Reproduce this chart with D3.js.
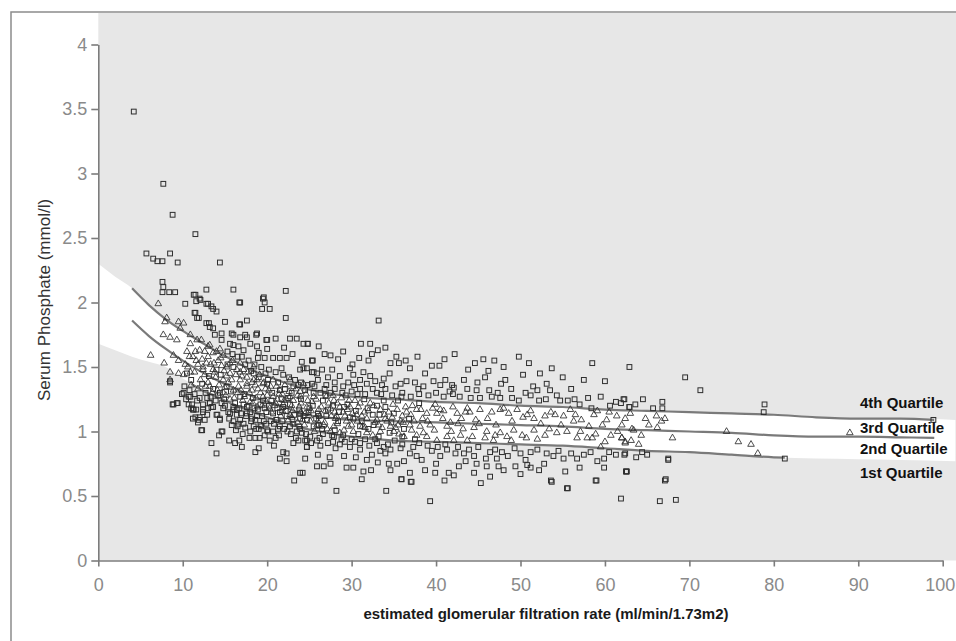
<!DOCTYPE html>
<html>
<head>
<meta charset="utf-8">
<script src="https://cdn.jsdelivr.net/npm/d3@7/dist/d3.min.js"></script>
<style>
  body { margin: 0; background: #fff; }
  svg text { font-family: "Liberation Sans", Arial, sans-serif; }
</style>
</head>
<body>
<div id="scatterChart"></div>
<script>
/***** Data ***************************/
var xTicks = [0, 10, 20, 30, 40, 50, 60, 70, 80, 90, 100];
var yTicks = [0, 0.5, 1, 1.5, 2, 2.5, 3, 3.5, 4];
var quartileNames = ["4th Quartile", "3rd Quartile", "2nd Quartile", "1st Quartile"];

// white band behind the middle half: [eGFR, top, bottom]
var bandEdges = [
  [0, 2.30, 1.68], [2, 2.20, 1.63], [4, 2.11, 1.58], [6, 1.98, 1.54], [8, 1.87, 1.50],
  [10, 1.78, 1.41], [12, 1.70, 1.34], [14, 1.62, 1.28], [16, 1.55, 1.22], [18, 1.48, 1.17],
  [20, 1.43, 1.12], [22, 1.38, 1.08], [24, 1.34, 1.04], [27, 1.30, 0.99], [30, 1.27, 0.96],
  [35, 1.25, 0.93], [40, 1.23, 0.92], [45, 1.22, 0.91], [50, 1.20, 0.90], [55, 1.19, 0.89],
  [60, 1.17, 0.87], [65, 1.16, 0.85], [70, 1.15, 0.84], [75, 1.14, 0.82], [80, 1.13, 0.80],
  [85, 1.11, 0.79], [90, 1.10, 0.785], [95, 1.10, 0.78], [101.5, 1.09, 0.77]
];

var upperLine = [
  [4, 2.11], [6, 1.98], [8, 1.87], [10, 1.78], [12, 1.70], [14, 1.62], [16, 1.55], [18, 1.48],
  [20, 1.43], [22, 1.38], [24, 1.34], [27, 1.30], [30, 1.27], [35, 1.25], [40, 1.23], [45, 1.22],
  [50, 1.20], [55, 1.19], [60, 1.17], [65, 1.16], [70, 1.15], [75, 1.14], [80, 1.13], [85, 1.11],
  [90, 1.10], [95, 1.10], [99, 1.09]
];
var medianLine = [
  [4, 1.86], [6, 1.74], [8, 1.64], [10, 1.55], [12, 1.47], [14, 1.40], [16, 1.34], [18, 1.28],
  [20, 1.23], [22, 1.19], [24, 1.14], [27, 1.11], [30, 1.09], [35, 1.08], [40, 1.07], [45, 1.06],
  [50, 1.05], [55, 1.04], [60, 1.02], [65, 1.01], [70, 1.00], [75, 0.99], [80, 0.97], [85, 0.96],
  [90, 0.96], [95, 0.955], [99, 0.95]
];
var lowerLine = [
  [11, 1.37], [12, 1.33], [14, 1.27], [16, 1.21], [18, 1.16], [20, 1.11], [22, 1.07],
  [24, 1.03], [27, 0.99], [30, 0.96], [35, 0.93], [40, 0.92], [45, 0.91], [50, 0.90], [55, 0.89],
  [60, 0.87], [65, 0.85], [70, 0.84], [75, 0.82], [80, 0.80], [81.3, 0.797]
];

// outer quartiles (squares)
var squarePts = [
  [4.2,3.48],[7.7,2.92],[8.8,2.68],[11.5,2.53],[5.7,2.38],[8.5,2.38],[6.5,2.34],[7.0,2.32],[7.6,2.32],[9.4,2.31],[14.4,2.31],
  [7.6,2.16],[7.7,2.12],[7.6,2.08],[8.4,2.08],[9.1,2.08],
  [10.3,1.99],[11.5,2.06],[12.1,2.02],[12.8,1.99],[13.6,1.95],[14.0,1.93],[12.8,2.10],[16.0,2.10],[16.7,2.0],[19.5,2.03],
  [19.7,2.0],[19.4,1.95],[20.3,1.95],[22.2,2.09],[22.2,1.88],[11.5,1.92],[11.9,1.88],[12.8,1.84],[13.2,1.81],[15.0,1.85],
  [16.7,1.83],[17.6,1.86],[13.8,1.75],[14.6,1.71],[16.0,1.75],[16.8,1.73],[17.6,1.73],[18.7,1.75],[16.0,1.67],[16.6,1.66],
  [17.2,1.63],[18.8,1.66],[19.9,1.71],[18.9,1.57],[19.7,1.57],[20.7,1.57],[21.5,1.57],[22.3,1.57],[22.7,1.72],[23.5,1.72],
  [24.3,1.68],[11.3,2.06],[12.0,2.03],[11.6,2.01],[13.0,1.99],[13.4,1.97],[16.8,2.00],[19.6,2.04],[11.4,1.92],
  [11.7,1.88],[13.1,1.84],[13.6,1.80],[16.8,1.83],[14.6,1.76],[15.8,1.76],[17.4,1.75],[18.8,1.76],[20.0,1.71],[24.8,1.68],
  [26.1,1.66],[15.6,1.68],[18.0,1.68],[20.0,1.64],[19.0,1.61],[24.1,1.54],[25.4,1.55],[21.7,1.49],[23.9,1.48],[24.7,1.49],
  [25.3,1.46],[25.9,1.45],
  [33.2,1.86],[24.8,1.68],[31.1,1.68],[32.2,1.68],[33.1,1.63],[32.4,1.60],[27.5,1.59],[28.4,1.56],[25.3,1.55],[32.0,1.55],
  [35.3,1.58],[34.6,1.53],[35.6,1.53],[42.2,1.60],[44.6,1.53],[46.9,1.55],[51.0,1.53],[53.7,1.49],[58.5,1.53],[62.9,1.50],
  [39.5,1.51],[40.4,1.51],[46.2,1.47],[50.3,1.44],[47.7,1.37],[53.1,1.37],[60.0,1.39],[56.0,1.33],[59.5,1.27],[61.3,1.23],
  [62.3,1.25],[62.9,1.19],[56.4,1.25],[58.4,1.18],
  [24.3,1.49],[25.5,1.46],[26.5,1.48],[27.7,1.48],[28.6,1.43],[29.8,1.49],[30.2,1.44],[31.0,1.40],[31.8,1.37],[32.8,1.39],
  [33.8,1.41],[35.2,1.35],[35.8,1.37],[36.5,1.39],[37.5,1.38],[37.9,1.33],[38.7,1.45],[39.7,1.39],[40.5,1.36],[41.1,1.40],
  [41.9,1.36],[42.1,1.34],[43.3,1.40],[43.7,1.33],[44.8,1.32],[45.2,1.26],[46.3,1.32],[46.6,1.27],[47.6,1.26],[49.0,1.26],
  [49.8,1.24],[51.2,1.28],[52.0,1.32],[52.2,1.24],[53.5,1.32],[54.3,1.28],[54.7,1.24],
  [26.0,1.40],[27.0,1.36],[28.0,1.33],[29.0,1.35],[30.0,1.31],[31.0,1.33],[33.0,1.30],[34.0,1.33],[36.0,1.30],[38.0,1.29],
  [40.0,1.30],[42.0,1.29],
  [15.3,1.62],[15.9,1.60],[17.0,1.58],[17.8,1.55],[18.5,1.52],[19.3,1.50],[20.2,1.48],[21.0,1.46],[21.9,1.44],[22.6,1.42],
  [23.3,1.40],[24.0,1.38],[24.8,1.36],[25.6,1.35],[26.8,1.33],[27.5,1.30],[28.9,1.30],[29.6,1.38],[30.7,1.29],[31.6,1.29],
  [32.5,1.33],[33.5,1.29],[34.8,1.28],[35.9,1.27],[37.0,1.27],[38.5,1.35],[39.1,1.28],[40.9,1.27],[41.6,1.31],[42.8,1.27],
  [44.1,1.26],[44.9,1.38],[45.8,1.42],[47.3,1.30],[48.2,1.40],[48.9,1.33],[50.6,1.30],[51.5,1.35],[53.0,1.25],[55.6,1.24],
  [57.0,1.21],[58.0,1.26],[60.6,1.20],[61.9,1.22],[63.6,1.21],[64.5,1.25],
  [21.0,1.72],[22.0,1.65],[23.0,1.60],[26.8,1.60],[29.0,1.62],[30.1,1.52],[30.9,1.57],[34.0,1.65],[36.4,1.55],[36.9,1.49],
  [37.8,1.58],[41.0,1.56],[43.8,1.48],[45.6,1.56],[48.0,1.50],[49.8,1.58],[52.3,1.45],[55.0,1.42],[57.5,1.40],
  [69.5,1.42],[71.3,1.32],[62.2,1.25],[66.8,1.23],[78.9,1.21],[62.9,1.19],[65.7,1.18],[66.8,1.18],[78.8,1.15],[98.9,1.09],
  // dense mass round the lines
  [10.2,1.35],[10.8,1.32],[11.4,1.29],[12.0,1.26],[12.7,1.30],[13.3,1.27],[13.9,1.24],[14.6,1.22],[10.4,1.25],[11.0,1.18],
  [11.7,1.24],[12.9,1.26],[13.6,1.33],[14.2,1.28],[14.9,1.25],[10.5,1.45],[11.0,1.40],[12.3,1.37],[13.1,1.43],[14.5,1.44],
  [15.2,1.35],[15.7,1.31],[16.2,1.22],[16.7,1.18],[17.3,1.29],[17.8,1.20],[18.3,1.26],[18.9,1.17],[19.5,1.24],[19.9,1.15],
  [15.5,1.10],[16.0,1.08],[16.9,1.14],[17.4,1.03],[18.0,1.00],[18.6,1.09],[19.4,1.12],[19.9,1.06],[15.3,1.52],[16.5,1.58],
  [17.4,1.52],[18.1,1.47],[19.0,1.42],[19.8,1.45],
  [20.2,1.20],[20.6,1.30],[21.2,1.18],[21.7,1.25],[22.2,1.16],[22.7,1.21],[23.2,1.13],[23.8,1.17],[24.3,1.12],[24.9,1.15],
  [20.4,1.08],[21.3,1.02],[22.4,1.00],[23.0,1.09],[23.8,1.04],[24.6,0.98],[20.1,1.40],[21.3,1.38],[22.1,1.33],[22.9,1.30],
  [23.7,1.36],[24.5,1.32],
  [25.4,1.20],[26.0,1.14],[26.6,1.24],[27.2,1.17],[27.8,1.20],[28.4,1.08],[29.1,1.19],[29.8,1.11],[30.5,1.16],[31.2,1.08],
  [31.9,1.18],[32.6,1.05],[33.3,1.13],[34.0,1.19],[34.7,1.07],[25.3,1.37],[26.3,1.30],[27.2,1.42],[28.0,1.38],[29.3,1.28],
  [30.3,1.36],[31.4,1.46],[32.2,1.43],[33.6,1.36],[34.5,1.45],[25.2,0.91],[26.2,0.95],[27.8,0.92],[28.6,0.90],[30.0,0.94],
  [31.0,0.91],[32.8,0.94],[33.8,0.88],
  [18.5,1.18],[19.0,1.02],[20.5,1.24],[21.0,0.95],[21.8,1.08],[22.5,1.26],[23.5,1.00],[24.0,1.25],[25.0,1.18],[25.8,1.10],
  [26.5,1.02],[27.0,1.12],[27.7,0.97],[28.5,1.15],[29.0,0.97],[29.5,1.21],[30.2,1.10],[30.8,0.98],[31.5,1.25],[32.0,1.02],
  [32.5,1.13],[33.2,0.96],[33.8,1.24],[34.5,0.99],[35.0,1.14],[35.5,1.24],[36.2,1.02],[36.8,1.10],[37.5,0.94],[38.0,1.22],
  [17.2,1.21],[16.5,1.04],[19.7,1.18],[26.9,1.28],[28.0,1.01],[31.0,1.04],[33.0,1.20],[36.0,0.96],
  // below the lower line
  [24.5,0.93],[24.7,0.88],[26.3,0.89],[27.9,0.96],[28.8,0.94],[29.8,0.88],[31.0,0.86],[31.8,0.78],[32.4,0.82],[33.4,0.85],
  [34.0,0.83],[34.6,0.86],[35.8,0.87],[36.9,0.83],[37.7,0.81],[38.3,0.78],[39.5,0.85],[40.5,0.81],[41.3,0.86],[42.3,0.83],
  [43.3,0.83],[44.5,0.81],[46.4,0.84],[47.2,0.79],[47.8,0.84],[50.0,0.83],[51.2,0.84],[52.8,0.75],[53.9,0.81],[55.1,0.79],
  [56.7,0.79],[59.1,0.77],[59.9,0.79],[61.3,0.82],[62.4,0.83],[23.9,0.68],[25.9,0.73],[26.7,0.73],[27.5,0.75],[29.4,0.72],
  [30.2,0.72],[31.4,0.69],[32.3,0.70],[34.4,0.75],[35.4,0.75],[34.6,0.70],[35.9,0.63],[36.9,0.68],[37.1,0.61],[38.7,0.70],
  [39.9,0.68],[41.5,0.68],[42.1,0.66],[42.7,0.73],[44.5,0.68],[44.8,0.75],[46.0,0.73],[46.4,0.65],[47.4,0.73],[49.4,0.73],
  [50.8,0.74],[51.2,0.72],[53.7,0.61],[55.3,0.69],[55.5,0.56],[58.9,0.62],[59.9,0.72],[62.6,0.69],[28.2,0.54],[34.1,0.54],
  [61.9,0.48],[39.3,0.46],[55.6,0.56],[53.6,0.62],[59.0,0.62],[62.5,0.69],[35.9,0.63],[37.0,0.61],
  [67.5,0.78],[67.1,0.62],[66.5,0.46],[68.4,0.47],[81.3,0.79],[64.4,0.84],[62.3,0.82],[67.5,0.79],[62.5,0.69],[67.2,0.63],
  [8.8,1.21],[9.3,1.22],[10.7,1.21],[11.2,1.17],[12.4,1.17],[13.2,1.22],[13.4,1.19],[12.9,1.13],[11.2,1.10],[11.9,1.09],
  [11.8,1.07],[12.3,1.01],[14.1,1.13],[14.4,1.10],[14.7,1.00],[14.3,0.97],[13.4,0.91],[14.0,0.83],[15.5,0.93],[16.2,0.91],
  [16.7,0.93],[16.6,1.06],[17.9,0.95],[18.6,0.95],[19.1,0.95],[19.7,0.97],[20.3,0.93],[18.6,0.84],[19.0,0.87],[18.7,1.02],
  [19.3,1.04],[20.1,1.00],[20.7,1.00],[21.9,0.84],[22.3,0.83],[22.3,0.77],[23.1,0.91],[23.7,0.93],[24.7,0.93],[24.5,0.79],
  [24.2,0.68],[23.2,0.62],[24.7,0.88],[17.6,1.14],[18.2,1.10],[17.2,1.06],[15.6,1.14],[16.4,1.17],[21.1,1.09],[21.5,1.04],
  [22.7,1.04],[23.9,1.02],[14.8,1.18],[15.4,1.15],[16.0,1.19],
  [8.5,1.39],[9.9,1.29],[10.7,1.27],[8.9,1.21],[9.4,1.22],[11.1,1.21],[11.3,1.17],[12.4,1.21],[13.0,1.18],[11.5,1.11],
  [12.0,1.11],[8.5,1.38],[10.1,1.30],[10.9,1.27],[11.6,1.17],[12.4,1.15],[12.6,1.09],[12.2,1.01],[13.2,1.22],[13.6,1.19],
  [14.0,1.13],[14.4,1.09],[14.6,1.00],[16.0,1.17],[16.4,1.13],[16.8,1.09],[17.6,1.19],[18.0,1.15],[18.8,1.12],[18.4,1.04],
  [19.2,1.05],[20.0,1.01],[20.7,1.14],[21.1,1.09],[21.9,1.19],[22.3,1.12],[23.1,1.06],[23.9,1.14],[24.7,1.09],[25.5,1.04],
  [26.1,1.12],
  [14.0,1.48],[16.0,1.50],[18.4,1.45],[20.0,1.37],[21.5,1.32],[23.1,1.35],[25.5,1.30],[14.4,1.30],[16.8,1.27],[19.2,1.21],
  [21.5,1.15],[23.9,1.10],[26.1,1.05],
  [15.0,1.20],[15.8,1.05],[16.3,1.01],[17.1,0.98],[17.5,1.12],[18.1,1.08],[19.6,1.08],[20.8,1.06],[21.4,0.97],[22.0,1.02],
  [22.8,0.98],[23.4,0.95],[24.1,0.99],[25.1,0.96],[25.9,0.93],[26.6,0.98],[27.2,0.91],[28.1,0.87],[29.2,0.92],[30.4,0.92],
  [31.6,0.94],[32.1,0.89],[33.0,0.91],[34.3,0.90],[35.1,0.93],[36.0,0.90],[37.3,0.88],[38.0,0.91],[39.0,0.89],[40.2,0.88],
  [41.1,0.90],[42.6,0.88],[43.9,0.86],[45.0,0.88],[45.9,0.79],[47.0,0.86],[48.5,0.81],[49.3,0.87],[50.6,0.78],[52.0,0.86],
  [53.1,0.83],[54.5,0.85],[56.0,0.83],[57.5,0.82],[58.3,0.84],[60.5,0.84],[63.7,0.80],[65.0,0.82],[17.0,0.88],[20.8,0.89],
  [21.5,0.79],[26.0,0.82],[27.4,0.80],[29.1,0.81],[30.5,0.80],[33.1,0.76],[36.2,0.77],[40.0,0.75],[43.5,0.77],[48.0,0.70],
  [50.0,0.67],[52.2,0.70],[57.0,0.72],[45.3,0.60],[41.0,0.62],[31.2,0.63],[26.8,0.62]
];

// middle quartiles (triangles)
var trianglePts = [
  [7.1,1.99],[8.1,1.88],[7.9,1.85],[9.5,1.85],[10.1,1.84],[9.7,1.80],[7.7,1.75],[8.5,1.73],[9.3,1.71],[10.9,1.75],
  [10.9,1.68],[11.7,1.71],[6.2,1.59],[7.8,1.53],[8.9,1.59],[9.5,1.55],[10.3,1.52],[8.5,1.46],[9.5,1.45],[10.9,1.46],
  [8.5,1.40],[10.1,1.44],[12.0,1.63],[13.0,1.66],[14.0,1.62],[14.8,1.59],[12.4,1.50],[13.6,1.48],[14.6,1.51],[15.6,1.53],
  [16.8,1.53],[18.4,1.50],[18.8,1.40],[17.6,1.37],[13.2,1.35],[14.8,1.30],[16.0,1.32],[19.5,1.37],[21.1,1.35],[22.7,1.40],
  [24.3,1.37],
  [12.2,1.71],[13.2,1.67],[12.6,1.62],[13.6,1.61],[14.4,1.64],[11.6,1.55],[12.8,1.53],[14.2,1.55],[15.2,1.50],[12.4,1.48],
  [13.8,1.46],[15.6,1.45],[16.8,1.46],[17.6,1.42],[18.4,1.40],[20.7,1.40],[14.8,1.40],[16.6,1.35],[18.2,1.32],
  [20.0,1.28],[21.5,1.32],[22.7,1.27],[23.9,1.31],
  [15.2,1.43],[16.8,1.40],[17.6,1.35],[19.2,1.30],[20.7,1.27],[22.3,1.25],[23.9,1.27],[24.7,1.19],[15.6,1.25],[18.0,1.23],
  [20.3,1.18],[22.7,1.13],[25.1,1.08],
  [10.5,1.62],[11.2,1.58],[11.8,1.52],[12.6,1.44],[13.3,1.52],[13.9,1.42],[10.6,1.50],[11.4,1.46],[12.1,1.40],[13.0,1.38],
  [14.3,1.36],[14.9,1.47],[15.4,1.38],[15.9,1.55],[16.3,1.44],[16.9,1.32],[17.2,1.48],[17.9,1.30],[18.6,1.36],[19.1,1.44],
  [19.8,1.33],[15.1,1.28],[16.1,1.26],[17.1,1.24],[18.3,1.22],[19.4,1.20],
  [10.8,1.58],[11.5,1.62],[12.3,1.56],[13.0,1.58],[13.7,1.53],[14.5,1.57],[11.0,1.36],[11.8,1.33],[12.7,1.35],[13.5,1.30],
  [14.1,1.32],[15.0,1.34],[15.8,1.40],[16.4,1.48],[17.0,1.43],[17.7,1.46],[18.2,1.38],[18.9,1.33],[19.6,1.38],[20.2,1.32],
  [16.5,1.30],[17.3,1.27],[18.7,1.26],[19.9,1.23],[21.2,1.25],[21.9,1.21],[22.6,1.31],[23.1,1.24],[23.8,1.19],[24.8,1.24],
  [25.5,1.27],[26.2,1.12],[26.9,1.16],[27.3,1.22],[28.0,1.15],[28.8,1.26],[29.5,1.17],[30.4,1.24],[21.8,1.16],[22.9,1.11],
  [24.2,1.09],[25.0,1.12],[26.0,1.08],[27.1,1.02],[28.3,1.06],[29.6,1.04],[30.7,1.08],[31.6,1.03],[32.8,1.07],[33.6,1.03],
  [34.8,1.11],[35.5,1.05],[36.4,1.19],[37.4,1.08],[38.2,1.17],[39.0,1.08],[39.9,1.21],[40.9,1.16],[41.7,1.07],[42.6,1.06],
  [43.5,1.15],[44.7,1.09],
  [18.8,1.19],[19.5,1.27],[20.9,1.20],[21.4,1.29],[22.0,1.24],[23.0,1.16],[23.6,1.28],[24.5,1.14],[25.3,1.23],[26.1,1.17],
  [26.7,1.05],[27.5,1.18],[28.1,1.10],[29.2,1.12],[30.1,1.14],[31.2,1.12],[32.0,1.16],[33.2,1.05],[34.0,1.10],[35.2,1.03],
  [36.1,1.07],[37.0,1.13],[24.0,1.15],[27.8,1.28],[25.9,1.05],
  [20.4,1.35],[21.0,1.22],[21.8,1.29],[22.1,1.36],[22.9,1.20],[23.4,1.33],[24.0,1.22],[24.6,1.29],[25.2,1.16],[25.8,1.25],
  [26.4,1.19],[27.0,1.27],[27.6,1.12],[28.3,1.22],[29.0,1.15],[29.7,1.24],[20.5,1.15],[21.6,1.12],[22.5,1.09],[23.6,1.07],
  [24.4,1.05],[25.6,1.00],[26.8,1.07],[27.9,1.04],[29.1,1.01],[30.0,1.05],
  [30.8,1.19],[31.5,1.15],[32.6,1.20],[33.9,1.13],[34.9,1.21],[36.0,1.12],[37.2,1.20],[38.4,1.10],[39.6,1.18],[40.8,1.10],
  [42.0,1.19],[43.0,1.10],[44.0,1.15],[31.3,1.04],[32.5,0.97],[34.6,1.04],[35.6,0.98],[37.1,1.01],[38.5,0.99],[39.8,1.01],
  [41.8,1.00],[43.2,1.02],[44.3,0.96],[45.1,1.06],
  [46.1,1.10],[47.1,1.05],[48.0,1.18],[49.0,1.08],[50.3,1.11],[51.2,1.16],[52.4,1.06],[53.6,1.15],[54.8,1.05],[55.9,1.17],
  [57.2,1.09],[58.1,1.04],[59.1,1.16],[60.2,1.09],[61.4,1.12],[63.0,1.14],[64.8,1.10],[45.8,0.95],[47.0,0.97],[48.9,0.93],
  [50.7,0.95],[52.0,0.94],[53.4,1.02],[57.1,1.00],[58.9,0.98],[60.0,0.92],[61.5,1.00],[64.0,0.90],[65.2,1.05],
  [45.2,1.17],[46.6,1.15],[47.6,1.17],[48.6,1.14],[49.6,1.17],[50.8,1.13],[51.6,1.10],[52.9,1.12],[54.1,1.13],[55.1,1.12],
  [56.5,1.13],[56.3,1.08],[58.7,1.13],[59.7,1.05],[60.5,1.15],[62.4,1.10],[49.2,1.01],[51.6,1.01],[52.9,0.97],[54.3,0.99],
  [55.5,1.00],[56.7,0.95],[57.9,0.95],[58.5,0.95],[59.5,0.88],[60.7,0.97],[62.0,0.95],[62.4,0.92],[63.4,1.01],[46.0,1.00],
  [47.6,0.99],[48.4,0.96],[50.2,0.97],[46.8,0.93],[44.5,1.03],[42.9,0.97],[42.1,0.93],[43.7,0.93],[41.3,1.04],[40.5,1.17],
  [42.5,1.14],[43.7,1.18],[27.9,1.24],[28.6,1.19],[29.8,1.19],[31.0,1.22],[32.2,1.22],[33.4,1.17],[34.4,1.15],[35.4,1.17],
  [36.5,1.15],[37.7,1.17],[38.9,1.14],[40.1,1.14],[28.2,1.12],[29.4,1.08],[30.6,1.13],[31.8,1.10],[33.0,1.09],[34.2,1.08],
  [35.8,1.08],[36.9,1.05],[38.1,1.04],[39.3,1.05],[26.3,1.04],[27.5,1.00],[28.6,0.99],[30.2,1.00],[31.8,0.99],[33.4,1.00],
  [35.0,1.00],[36.2,0.96],[37.7,0.97],[38.9,0.96],[40.1,0.93],[41.3,0.96],
  [66.1,1.12],[66.7,1.08],[67.1,1.10],[62.0,1.05],[66.2,1.03],[63.2,1.02],[64.3,0.97],[68.0,0.95],[74.4,1.00],
  [75.8,0.92],[77.3,0.90],[78.1,0.83],[62.0,0.95],[62.4,0.91],[63.1,0.93],[89.0,0.99]
];

/***** Scales and canvas ******/
var svgWidth = 956, svgHeight = 641;
var x = d3.scaleLinear().domain([0, 100]).range([98.3, 942.7]);
var y = d3.scaleLinear().domain([0, 4]).range([560.5, 44.5]);

var svg = d3.select("#scatterChart")
            .append("svg")
            .attr("width", svgWidth)
            .attr("height", svgHeight);

function drawBackground(){
    // frame round the whole figure
    svg.append("rect")
       .attr("x", 11).attr("y", 12)
       .attr("width", svgWidth + 20).attr("height", svgHeight + 20)
       .attr("fill", "#fff")
       .attr("stroke", "#8c8c8c")
       .attr("stroke-width", 1.5);

    // grey plot area
    svg.append("rect")
       .attr("x", x(0)).attr("y", 13)
       .attr("width", svgWidth - x(0))
       .attr("height", y(0) - 13)
       .attr("fill", "#e7e7e7");

    var band = d3.area()
                 .x(function(d) { return x(d[0]); })
                 .y0(function(d) { return y(d[2]); })
                 .y1(function(d) { return y(d[1]); })
                 .curve(d3.curveMonotoneX);

    svg.append("path")
       .datum(bandEdges)
       .attr("d", band)
       .attr("fill", "#fff");
}

function drawAxes(){
    svg.append("g")
       .attr("class", "axis axis--x")
       .attr("transform", "translate(0," + y(0) + ")")
       .call(d3.axisBottom(x).tickValues(xTicks).tickSize(6).tickSizeOuter(0).tickPadding(12));

    svg.append("g")
       .attr("class", "axis axis--y")
       .attr("transform", "translate(" + x(0) + ",0)")
       .call(d3.axisLeft(y).tickValues(yTicks).tickSize(7).tickSizeOuter(0).tickPadding(4)
               .tickFormat(function(d) { return d; }));

    svg.selectAll(".axis path, .axis line")
       .attr("stroke", "#7c7c7c")
       .attr("stroke-width", 1.6);

    svg.selectAll(".axis text")
       .attr("fill", "#8a8a8a")
       .style("font-size", "18px");

    // last x label sits against the right edge
    svg.selectAll(".axis--x .tick text")
       .filter(function(d) { return d === 100; })
       .attr("dx", -3);

    svg.append("text")
       .attr("transform", "translate(44,300) rotate(-90)")
       .attr("text-anchor", "middle")
       .attr("dy", "0.35em")
       .attr("fill", "#333")
       .style("font-size", "17px")
       .text("Serum Phosphate (mmol/l)");

    svg.append("text")
       .attr("x", 546)
       .attr("y", 619)
       .attr("text-anchor", "middle")
       .attr("fill", "#1a1a1a")
       .style("font-size", "15px")
       .style("font-weight", "bold")
       .text("estimated glomerular filtration rate (ml/min/1.73m2)");
}

function drawLines(){
    var line = d3.line()
                 .x(function(d) { return x(d[0]); })
                 .y(function(d) { return y(d[1]); })
                 .curve(d3.curveMonotoneX);

    svg.selectAll(".qLine")
       .data([upperLine, medianLine, lowerLine])
       .enter()
       .append("path")
       .attr("class", "qLine")
       .attr("d", line)
       .attr("fill", "none")
       .attr("stroke", "#7a7a7a")
       .attr("stroke-width", 2.2);
}

function drawPoints(){
    svg.selectAll(".sq")
       .data(squarePts)
       .enter()
       .append("rect")
       .attr("class", "sq")
       .attr("x", function(d) { return x(d[0]) - 2.4; })
       .attr("y", function(d) { return y(d[1]) - 2.4; })
       .attr("width", 4.8)
       .attr("height", 4.8)
       .attr("fill", "none")
       .attr("stroke", "#2e2e2e")
       .attr("stroke-width", 1);

    svg.selectAll(".tri")
       .data(trianglePts)
       .enter()
       .append("path")
       .attr("class", "tri")
       .attr("transform", function(d) { return "translate(" + x(d[0]) + "," + y(d[1]) + ")"; })
       .attr("d", d3.symbol().type(d3.symbolTriangle).size(19))
       .attr("fill", "none")
       .attr("stroke", "#2e2e2e")
       .attr("stroke-width", 0.85);
}

function drawLabels(){
    var labelLevels = [1.18, 0.99, 0.826, 0.64];
    svg.selectAll(".qLabel")
       .data(quartileNames)
       .enter()
       .append("text")
       .attr("class", "qLabel")
       .attr("x", 860)
       .attr("y", function(d, i) { return y(labelLevels[i]); })
       .attr("fill", "#111")
       .style("font-size", "15px")
       .style("font-weight", "bold")
       .text(function(d) { return d; });
}

drawBackground();
drawAxes();
drawLines();
drawPoints();
drawLabels();
</script>
</body>
</html>
